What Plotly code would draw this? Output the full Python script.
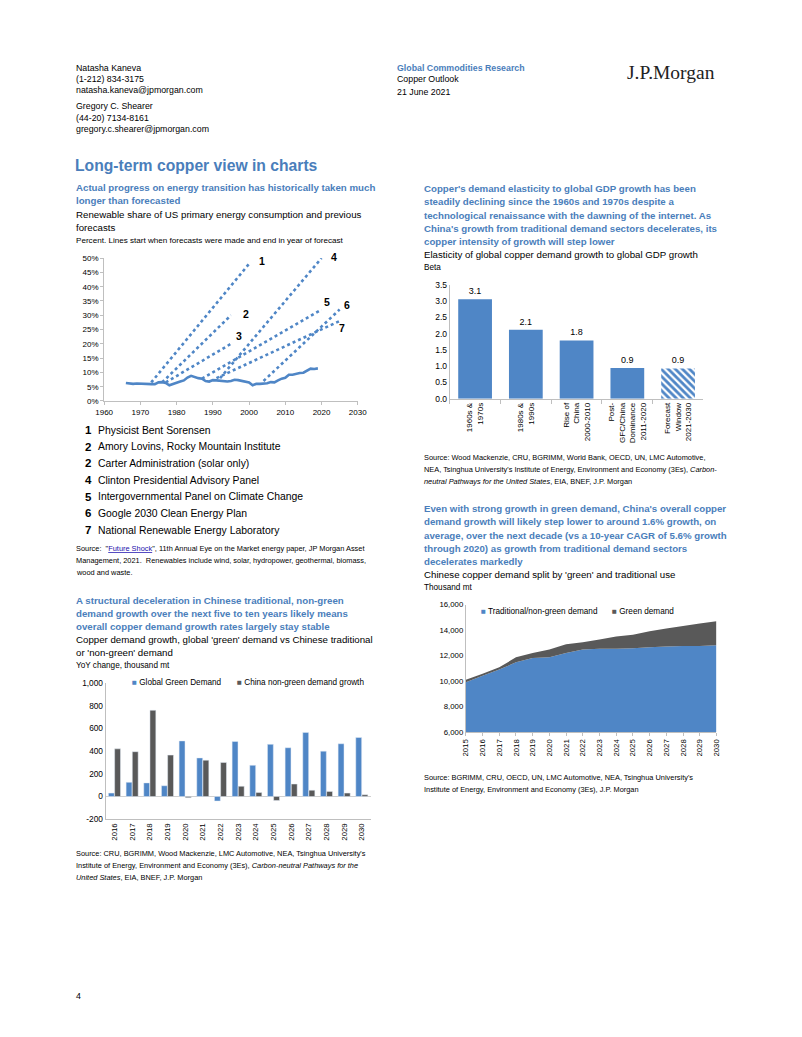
import plotly.graph_objects as go

# figure size (page 802x1037 minus body margin)
FW, FH = 786, 1021
# mapping from page pixel coordinates to figure pixels (compensates the page offset/scale)
SX, BX = 0.98, 17.5
SY, BY = 0.989, 12.5

# ---------------- data ----------------
# Chart 1: renewable share of US primary energy consumption (%)
actual_years = list(range(1966, 2020))
actual_share = [6.3, 6.1, 6.0, 6.1, 6.0, 6.0, 6.0, 5.9, 5.9, 6.5, 6.6, 6.3, 5.5, 6.0,
                6.3, 6.8, 7.2, 8.2, 8.8, 8.3, 8.0, 7.8, 7.0, 6.8, 7.3, 7.2, 7.0, 7.0,
                6.8, 7.0, 7.4, 7.3, 7.0, 6.8, 6.5, 5.5, 6.0, 6.0, 6.0, 6.2, 6.6, 6.5,
                7.2, 7.8, 8.1, 9.2, 9.2, 9.6, 9.8, 9.9, 10.5, 11.3, 11.2, 11.4]
forecast_ids = ["1", "2", "3", "4", "5", "6", "7"]
forecast_names = ["Physicist Bent Sorensen", "Amory Lovins, Rocky Mountain Institute",
                  "Carter Administration (solar only)", "Clinton Presidential Advisory Panel",
                  "Intergovernmental Panel on Climate Change", "Google 2030 Clean Energy Plan",
                  "National Renewable Energy Laboratory"]
forecast_list_nums = ["1", "2", "2", "4", "5", "6", "7"]
fc_start_year = [1973, 1976, 1977, 1992, 1987, 2004, 1991]
fc_start_val = [6.5, 6.5, 6.5, 8.0, 7.8, 7.0, 8.0]
fc_end_year = [2000, 1995, 1995, 2020, 2020, 2025, 2025]
fc_end_val = [48, 30, 20, 50, 32, 32, 28]

# Chart 2: YoY change, thousand mt
years2 = [str(y) for y in range(2016, 2031)]
global_green = [30, 125, 120, 95, 490, 340, -40, 485, 275, 460, 430, 565, 400, 465, 520]
china_nongreen = [420, 395, 760, 365, -10, 320, 300, 90, 35, -35, 110, 55, 45, 30, 15]
ticks2 = list(range(-200, 1001, 200))

# Chart 3: elasticity (beta)
elast_cats = ["1960s &<br>1970s", "1980s &<br>1990s", "Rise of<br>China<br>2000-2010",
              "Post-<br>GFC/China<br>Dominance<br>2011-2020", "Forecast<br>Window<br>2021-2030"]
elast_beta = [3.06, 2.12, 1.79, 0.94, 0.93]

# Chart 4: Chinese copper demand, thousand mt
years4 = list(range(2015, 2031))
traditional = [9900, 10420, 10900, 11470, 11810, 11860, 12200, 12470, 12540, 12540,
               12570, 12650, 12700, 12750, 12750, 12800]
green = [210, 160, 180, 390, 390, 610, 680, 570, 710, 950, 1070, 1250, 1420, 1570, 1760, 1890]

# ---------------- styles ----------------
FONT = "Liberation Sans, Arial, sans-serif"
SERIF = "Liberation Serif, Times New Roman, serif"
BLUE = "#4f86c6"
HEAD = "#4a7ebb"
GREY = "#595959"
AXC = "#bfbfbf"


def fx(p):
    return (p - BX) / SX


def fy(p):
    return (p - BY) / SY


def dx(a, b):
    return [fx(a) / FW, fx(b) / FW]


def dy(top, bottom):
    return [1 - fy(bottom) / FH, 1 - fy(top) / FH]


ann = []


def txt(x, y, s, size=9.7, color="#000", family=FONT, anchor="left"):
    ann.append(dict(x=fx(x) / FW, y=1 - fy(y) / FH, xref="paper", yref="paper", text=s,
                    showarrow=False, xanchor=anchor, yanchor="middle",
                    font=dict(size=size, color=color, family=family)))


fig = go.Figure()

# Chart 1
for i in range(len(forecast_ids)):
    fig.add_trace(go.Scatter(x=[fc_start_year[i], fc_end_year[i]], y=[fc_start_val[i], fc_end_val[i]],
                             mode="lines", line=dict(color=BLUE, width=2.6, dash="dot"),
                             showlegend=False, xaxis="x", yaxis="y"))
fig.add_trace(go.Scatter(x=actual_years, y=actual_share, mode="lines",
                         line=dict(color=BLUE, width=2.6), showlegend=False, xaxis="x", yaxis="y"))
label_shift = [(13, 3), (15, 1), (8, 8), (12, 1), (5, 8), (7, 5), (2, -7)]
for i, lab in enumerate(forecast_ids):
    ann.append(dict(x=fc_end_year[i], y=fc_end_val[i], xref="x", yref="y", text="<b>%s</b>" % lab,
                    showarrow=False, xshift=label_shift[i][0], yshift=label_shift[i][1],
                    font=dict(size=10.5, family=FONT, color="#000")))

# Chart 2
fig.add_trace(go.Bar(x=years2, y=global_green, name="Global Green Demand", marker_color=BLUE,
                     showlegend=False, xaxis="x2", yaxis="y2"))
fig.add_trace(go.Bar(x=years2, y=china_nongreen, name="China non-green demand growth", marker_color=GREY,
                     showlegend=False, xaxis="x2", yaxis="y2"))

# Chart 3
fig.add_trace(go.Bar(x=elast_cats, y=elast_beta, marker=dict(
    color=BLUE, line=dict(width=0),
    pattern=dict(shape=[""] * 4 + ["\\"], bgcolor="white", size=5, solidity=0.55, fillmode="replace")),
    texttemplate="%{y:.1f}", textposition="outside", textfont=dict(size=9, family=FONT, color="#000"),
    cliponaxis=False, showlegend=False, xaxis="x3", yaxis="y3"))

# Chart 4
fig.add_trace(go.Scatter(x=years4, y=traditional, name="Traditional/non-green demand", stackgroup="one",
                         mode="none", fillcolor=BLUE, showlegend=False, xaxis="x4", yaxis="y4"))
fig.add_trace(go.Scatter(x=years4, y=green, name="Green demand", stackgroup="one",
                         mode="none", fillcolor=GREY, showlegend=False, xaxis="x4", yaxis="y4"))

tickfont = dict(size=8, family=FONT, color="#000")
axbase = dict(showgrid=False, zeroline=False, tickfont=tickfont, linecolor=AXC, tickcolor=AXC)

fig.update_layout(
    width=FW, height=FH, margin=dict(l=0, r=0, t=0, b=0), paper_bgcolor="white", plot_bgcolor="white",
    barmode="group", bargap=0.3, bargroupgap=0.05, showlegend=False,
    xaxis=dict(axbase, domain=dx(104.9, 359.3), range=[1960, 2030.01], tickvals=list(range(1960, 2031, 10)),
               showline=True, ticks="outside", ticklen=3, anchor="y"),
    yaxis=dict(axbase, domain=dy(257.3, 400), range=[0, 50.01], dtick=5, ticksuffix="%",
               showline=True, ticks="outside", ticklen=3, anchor="x"),
    xaxis2=dict(axbase, domain=dx(106.4, 372.2), type="category", tickangle=-90, anchor="y2",
                tickfont=dict(size=7.8, family=FONT, color="#000")),
    yaxis2=dict(axbase, domain=dy(681.7, 817.7), range=[-200, 1000.5], tickvals=ticks2,
                ticktext=[f"{v:,}" for v in ticks2],
                zeroline=True, zerolinecolor="#d0d0d0", zerolinewidth=1, anchor="x2",
                tickfont=dict(size=8.3, family=FONT, color="#000")),
    xaxis3=dict(axbase, domain=dx(451.5, 706), type="category", tickangle=-90, showline=True,
                ticks="outside", tickson="boundaries", ticklen=4, anchor="y3"),
    yaxis3=dict(axbase, domain=dy(284, 397.7), range=[0, 3.501], dtick=0.5, tickformat=".1f", anchor="x3",
                tickfont=dict(size=8.5, family=FONT, color="#000")),
    xaxis4=dict(axbase, domain=dx(467.7, 719), range=[2015, 2030], dtick=1, tickangle=-90,
                showline=True, ticks="outside", ticklen=3, anchor="y4",
                tickfont=dict(size=7.8, family=FONT, color="#000")),
    yaxis4=dict(axbase, domain=dy(603.3, 730.7), range=[6000, 16000.5], dtick=2000, tickformat=",",
                anchor="x4", tickfont=dict(size=7.8, family=FONT, color="#000")),
)

# ---------------- page text ----------------
hdr = 8.8
txt(75, 67, "Natasha Kaneva", hdr)
txt(75, 78, "(1-212) 834-3175", hdr)
txt(75, 89, "natasha.kaneva@jpmorgan.com", hdr)
txt(75, 105, "Gregory C. Shearer", hdr)
txt(75, 117, "(44-20) 7134-8161", hdr)
txt(75, 128, "gregory.c.shearer@jpmorgan.com", hdr)
txt(397, 67, "<b>Global Commodities Research</b>", hdr, HEAD)
txt(397, 78, "Copper Outlook", hdr)
txt(397, 91, "21 June 2021", hdr)
txt(627, 72, "J.P.Morgan", 19.5, "#222", SERIF)

txt(74, 165, "<b>Long-term copper view in charts</b>", 15.7, HEAD)

# left top
txt(75, 187, "<b>Actual progress on energy transition has historically taken much</b>", 9.7, HEAD)
txt(75, 200, "<b>longer than forecasted</b>", 9.7, HEAD)
txt(75, 213.5, "Renewable share of US primary energy consumption and previous", 9.7)
txt(75, 227, "forecasts", 9.7)
txt(75, 240, "Percent. Lines start when forecasts were made and end in year of forecast", 8.1)
list_y = [429, 445.7, 462.3, 479, 495.7, 512.3, 529]
for num, name, yy in zip(forecast_list_nums, forecast_names, list_y):
    txt(84, yy, "<b>%s</b>" % num, 11.5, "#000")
    txt(97, yy, name, 10.4, "#000")
src = 7.4
txt(75, 547, 'Source:  "<span style="color:#1a0dab;text-decoration:underline">Future Shock</span>", '
    '11th Annual Eye on the Market energy paper, JP Morgan Asset', src)
txt(75, 559, "Management, 2021.  Renewables include wind, solar, hydropower, geothermal, biomass,", src)
txt(75, 571, "wood and waste.", src)

# left bottom
txt(75, 599, "<b>A structural deceleration in Chinese traditional, non-green</b>", 9.7, HEAD)
txt(75, 612, "<b>demand growth over the next five to ten years likely means</b>", 9.7, HEAD)
txt(75, 625, "<b>overall copper demand growth rates largely stay stable</b>", 9.7, HEAD)
txt(75, 638.3, "Copper demand growth, global 'green' demand vs Chinese traditional", 9.7)
txt(75, 651, "or 'non-green' demand", 9.7)
txt(75, 664.5, "YoY change, thousand mt", 8.2)
txt(130.5, 681.5, '<span style="color:%s">■</span> Global Green Demand' % BLUE, 8.2)
txt(236.5, 681.5, '<span style="color:%s">■</span> China non-green demand growth' % GREY, 8.2)
txt(75, 852, "Source: CRU, BGRIMM, Wood Mackenzie, LMC Automotive, NEA, Tsinghua University's", src)
txt(75, 864, "Institute of Energy, Environment and Economy (3Es), <i>Carbon-neutral Pathways for the</i>", src)
txt(75, 876, "<i>United States</i>, EIA, BNEF, J.P. Morgan", src)

# right top
for i, s in enumerate(["Copper's demand elasticity to global GDP growth has been",
                       "steadily declining since the 1960s and 1970s despite a",
                       "technological renaissance with the dawning of the internet. As",
                       "China's growth from traditional demand sectors decelerates, its",
                       "copper intensity of growth will step lower"]):
    txt(424, 187.5 + i * 13.4, "<b>%s</b>" % s, 9.7, HEAD)
txt(424, 254, "Elasticity of global copper demand growth to global GDP growth", 9.7)
txt(424, 266.5, "Beta", 8.2)
txt(424, 456, "Source: Wood Mackenzie, CRU, BGRIMM, World Bank, OECD, UN, LMC Automotive,", src)
txt(424, 468, "NEA, Tsinghua University's Institute of Energy, Environment and Economy (3Es), <i>Carbon-</i>", src)
txt(424, 480, "<i>neutral Pathways for the United States</i>, EIA, BNEF, J.P. Morgan", src)

# right bottom
for i, s in enumerate(["Even with strong growth in green demand, China's overall copper",
                       "demand growth will likely step lower to around 1.6% growth, on",
                       "average, over the next decade (vs a 10-year CAGR of 5.6% growth",
                       "through 2020) as growth from traditional demand sectors",
                       "decelerates markedly"]):
    txt(424, 507.3 + i * 13.3, "<b>%s</b>" % s, 9.7, HEAD)
txt(424, 573.5, "Chinese copper demand split by 'green' and traditional use", 9.7)
txt(424, 586, "Thousand mt", 8.2)
txt(481, 610, '<span style="color:%s">■</span> Traditional/non-green demand' % BLUE, 8.2)
txt(612.5, 610, '<span style="color:%s">■</span> Green demand' % GREY, 8.2)
txt(424, 776, "Source: BGRIMM, CRU, OECD, UN, LMC Automotive, NEA, Tsinghua University's", src)
txt(424, 788, "Institute of Energy, Environment and Economy (3Es), J.P. Morgan", src)

txt(75, 994, "4", 8.8)

fig.update_layout(annotations=ann)
fig.write_html("out.html")
